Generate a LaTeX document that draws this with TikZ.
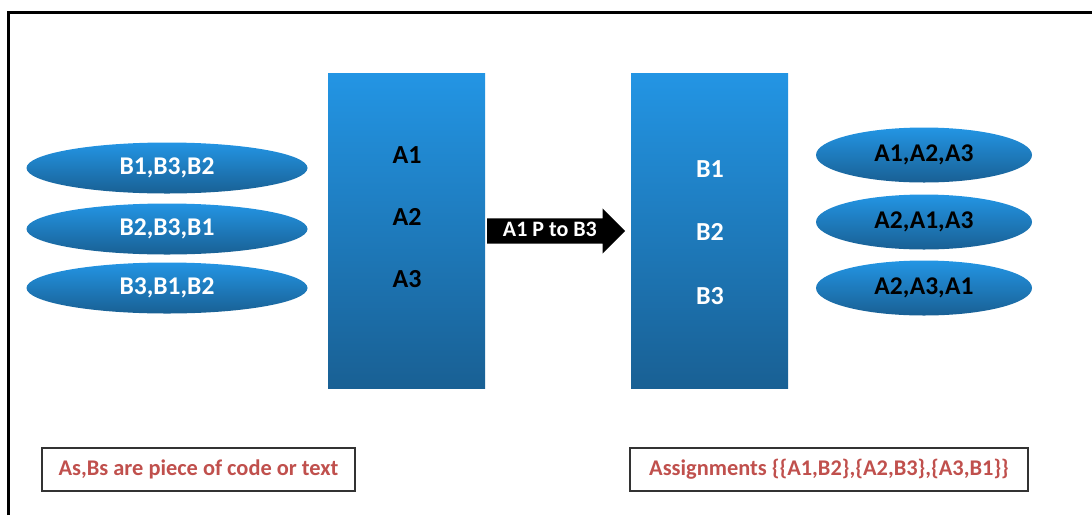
\documentclass[tikz,border=0pt]{standalone}
\usepackage{fontspec}
\setmainfont{Carlito}
\usepackage{xcolor}
\usepackage{tikz}
\usetikzlibrary{shapes.geometric,shapes.arrows}
\definecolor{paneltop}{RGB}{35,149,228}
\definecolor{panelbottom}{RGB}{25,96,148}
\definecolor{noteredtext}{RGB}{192,80,77}

\begin{document}
\begin{tikzpicture}[
    x=1pt, y=-1pt,
    oval/.style={ellipse, inner sep=0pt, minimum width=281, minimum height=51, top color=paneltop, bottom color=panelbottom, font=\fontsize{25.5}{29}\selectfont\bfseries},
    panel/.style={rectangle, inner sep=0pt, minimum width=157, minimum height=315, top color=paneltop, bottom color=panelbottom},
    item/.style={font=\fontsize{26}{30}\selectfont\bfseries},
    note/.style={rectangle, draw=black!80, line width=1.2pt, inner sep=0pt, minimum height=43, text=noteredtext, font=\fontsize{22.4}{26}\selectfont\bfseries},
    pointer/.style={single arrow, fill=black, text=white, single arrow head extend=10, single arrow head indent=0pt, minimum height=138, text height=15, text depth=4, inner ysep=3, inner xsep=2, font=\fontsize{22}{26}\selectfont\bfseries}
]
\useasboundingbox (0,0) rectangle (1092,515);

% frame
\draw[line width=2.7pt] (8.7,515) -- (8.7,12.7) -- (1092,12.7);

% Preferences of the As (left side)
\node[oval, text=white] (prefa1) at (167,168) {B1,B3,B2};
\node[oval, text=white] (prefa2) at (167,229) {B2,B3,B1};
\node[oval, text=white] (prefa3) at (167,288) {B3,B1,B2};

\node[panel] (groupa) at (406.5,230.5) {};
\node[item] (a1) at (407,155) {A1};
\node[item] (a2) at (407,217) {A2};
\node[item] (a3) at (407,279) {A3};

% Proposal
\node[pointer, anchor=tail] (propose) at (487,231) {A1 P to B3};

% Preferences of the Bs (right side)
\node[panel] (groupb) at (709.5,230.5) {};
\node[item, text=white] (b1) at (710,169) {B1};
\node[item, text=white] (b2) at (710,232) {B2};
\node[item, text=white] (b3) at (710,296) {B3};

\node[oval, minimum width=216, minimum height=55] (prefb1) at (924,155) {A1,A2,A3};
\node[oval, minimum width=216, minimum height=55] (prefb2) at (924,222) {A2,A1,A3};
\node[oval, minimum width=216, minimum height=55] (prefb3) at (924,288) {A2,A3,A1};

% Notes
\node[note, minimum width=313] (legend) at (198.5,469.5) {As,Bs are piece of code or text};
\node[note, minimum width=398] (result) at (829,469.5) {Assignments \{\{A1,B2\},\{A2,B3\},\{A3,B1\}\}};

\end{tikzpicture}
\end{document}
